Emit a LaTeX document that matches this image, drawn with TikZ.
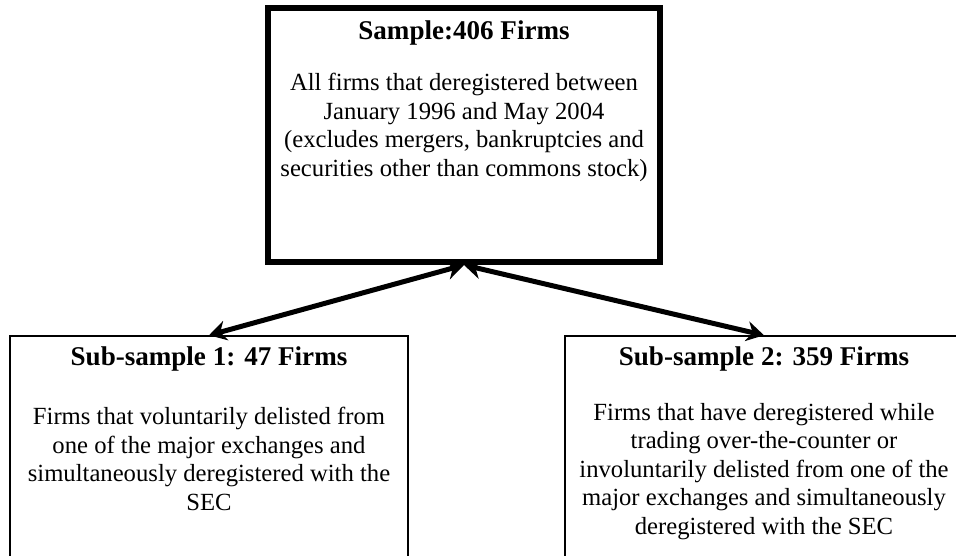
\documentclass[tikz,border=0pt]{standalone}
\usepackage{fontspec}
\setmainfont{Liberation Serif}
\usetikzlibrary{arrows.meta,positioning}

\tikzset{
  samplebox/.style={draw,line width=4.5pt,minimum width=294pt,minimum height=190.5pt,inner sep=0pt},
  subbox/.style={draw,line width=1.1pt,minimum width=298.5pt,minimum height=198pt,inner sep=0pt},
  headtext/.style={font=\fontsize{20.3}{24}\selectfont\bfseries,anchor=base,inner sep=0pt},
  bodytext/.style={font=\fontsize{18.5}{21.4}\selectfont,align=center,anchor=north,inner sep=0pt},
  link/.style={{Stealth[length=13pt,width=15pt]}-{Stealth[length=13pt,width=15pt]},line width=3.75pt}
}

\begin{document}
\begin{tikzpicture}[x=0.75pt,y=-0.75pt]
\useasboundingbox (0,0) rectangle (956,556);
% full sample
\node[samplebox] (sample) at (464,135) {};
\node[headtext] (sampletitle) at (464,40) {Sample:406 Firms};
\node[bodytext] (sampletext) at (464,73) {All firms that deregistered between\\January 1996 and May 2004\\(excludes mergers, bankruptcies and\\securities other than commons stock)};
% sub-samples
\node[subbox] (sub1) at (209,468) {};
\node[headtext] (sub1title) at (209,365) {Sub-sample 1: 47 Firms};
\node[bodytext] (sub1text) at (209,407) {Firms that voluntarily delisted from\\one of the major exchanges and\\simultaneously deregistered with the\\SEC};
\node[subbox,minimum width=315pt] (sub2) at (775,468) {};
\node[headtext] (sub2title) at (764,365) {Sub-sample 2: 359 Firms};
\node[bodytext] (sub2text) at (764,403) {Firms that have deregistered while\\trading over-the-counter or\\involuntarily delisted from one of the\\major exchanges and simultaneously\\deregistered with the SEC};
\draw[link] (sample.south) -- (sub1.north);
\draw[link] (sample.south) -- ([xshift=-8.25pt]sub2.north);
\end{tikzpicture}
\end{document}
